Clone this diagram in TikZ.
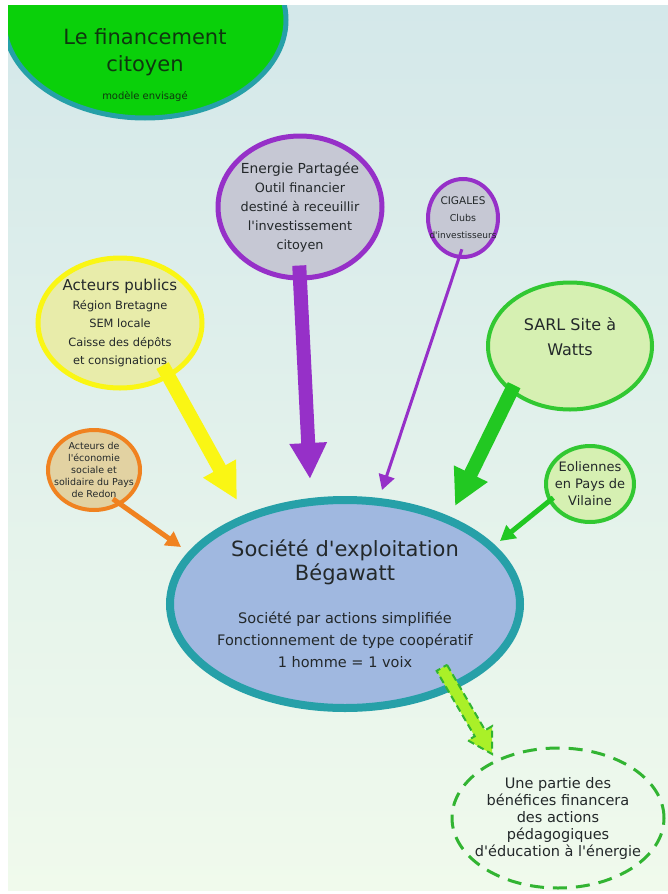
\documentclass[tikz,border=0pt]{standalone}
\usepackage{fontspec}
\setmainfont{DejaVu Sans}
\usepackage{tikz}
\usetikzlibrary{calc,shapes.geometric,arrows.meta}

\definecolor{bgtop}{RGB}{212,232,234}
\definecolor{bgbot}{RGB}{240,250,236}
\definecolor{encre}{RGB}{35,40,42}
\definecolor{titrevert}{RGB}{15,55,15}
\definecolor{vertvif}{RGB}{10,208,10}
\definecolor{sarcelle}{RGB}{38,160,168}
\definecolor{violet}{RGB}{150,48,200}
\definecolor{grisbleu}{RGB}{198,200,212}
\definecolor{jaune}{RGB}{250,246,20}
\definecolor{jaunepale}{RGB}{232,236,170}
\definecolor{orangev}{RGB}{240,130,32}
\definecolor{sable}{RGB}{226,210,162}
\definecolor{vert}{RGB}{50,200,50}
\definecolor{vertfleche}{RGB}{34,200,34}
\definecolor{vertpale}{RGB}{214,240,178}
\definecolor{bleuclair}{RGB}{160,184,224}
\definecolor{anis}{RGB}{170,240,40}
\definecolor{vertpointille}{RGB}{50,180,50}

\tikzset{
	bulle/.style={ellipse, inner sep=0pt},
	texte/.style={align=center, text=encre, inner sep=0pt},
	grossefleche/.style={draw=#1, line width=14pt, -{Triangle[width=35pt,length=36pt]}},
	petitefleche/.style={draw=#1, line width=5pt, -{Triangle[width=16pt,length=15pt]}},
}

\begin{document}
\begin{tikzpicture}[x=1pt, y=-1pt]
	%%%%% START %%%%%
	
	\useasboundingbox (0,0) rectangle (668,894);
	\shade[top color=bgtop, bottom color=bgbot] (8,5) rectangle (668,890);
	
	% titre
	\begin{scope}
		\clip (8,5) rectangle (668,890);
		\node[bulle, draw=sarcelle, line width=5, fill=vertvif, minimum width=282, minimum height=196] (titre) at (145,20) {};
	\end{scope}
	\node[texte, text=titrevert, font=\fontsize{21}{27}\selectfont] (titre-t) at (145,52) {Le financement\\citoyen};
	\node[texte, text=titrevert, font=\fontsize{10}{12}\selectfont] (titre-s) at (145,97) {modèle envisagé};
	
	% les bulles
	\node[bulle, draw=violet, line width=5, fill=grisbleu, minimum width=164, minimum height=142] (energie) at (300,207) {};
	\node[bulle, draw=violet, line width=4, fill=grisbleu, minimum width=70, minimum height=78] (cigales) at (463,218) {};
	\node[bulle, draw=jaune, line width=5, fill=jaunepale, minimum width=164, minimum height=130] (publics) at (120,323) {};
	\node[bulle, draw=orangev, line width=4, fill=sable, minimum width=92, minimum height=80] (redon) at (94,470) {};
	\node[bulle, draw=vert, line width=4, fill=vertpale, minimum width=164, minimum height=127] (sarl) at (570,346) {};
	\node[bulle, draw=vert, line width=4, fill=vertpale, minimum width=88, minimum height=76] (eoliennes) at (590,484) {};
	\node[bulle, draw=sarcelle, line width=8, fill=bleuclair, minimum width=350, minimum height=208] (societe) at (345,604) {};
	\node[bulle, draw=vertpointille, line width=3, dash pattern=on 14 off 9, minimum width=212, minimum height=140] (benef) at (558,818) {};
	
	% les textes
	\node[texte, font=\fontsize{12.8}{19}\selectfont] (energie-t) at (energie) {{\fontsize{13.8}{19}\selectfont Energie Partagée}\\Outil financier\\destiné à receuillir\\l\textquotesingle investissement\\citoyen};
	\node[texte, font=\fontsize{9.5}{17}\selectfont] (cigales-t) at (cigales) {{\fontsize{10.5}{17}\selectfont CIGALES}\\Clubs\\{\fontsize{9}{17}\selectfont d\textquotesingle investisseurs}};
	\node[texte, font=\fontsize{11.4}{18.5}\selectfont] (publics-t) at (publics) {{\fontsize{15}{18.5}\selectfont Acteurs publics}\\Région Bretagne\\SEM locale\\Caisse des dépôts\\et consignations};
	\node[texte, font=\fontsize{9.5}{12}\selectfont] (redon-t) at (redon) {Acteurs de\\l\textquotesingle économie\\sociale et\\solidaire du Pays\\de Redon};
	\node[texte, font=\fontsize{16}{25}\selectfont] (sarl-t) at (570,337) {SARL Site à\\Watts};
	\node[texte, font=\fontsize{13}{17}\selectfont] (eoliennes-t) at (eoliennes) {Eoliennes\\en Pays de\\Vilaine};
	\node[texte, font=\fontsize{14.5}{22}\selectfont] (societe-t) at (societe) {{\fontsize{21}{24}\selectfont Société d\textquotesingle exploitation}\\[2pt]{\fontsize{21}{24}\selectfont Bégawatt}\\[21pt]Société par actions simplifiée\\Fonctionnement de type coopératif\\1 homme = 1 voix};
	\node[texte, font=\fontsize{14.5}{17}\selectfont] (benef-t) at (benef) {Une partie des\\bénéfices financera\\des actions\\pédagogiques\\d\textquotesingle éducation à l\textquotesingle énergie};
	
	% les fleches
	\coordinate (pEnergie) at (310,479);
	\coordinate (pPublics) at (237,500);
	\coordinate (pCigales) at (382,490);
	\coordinate (pSarl) at (455,506);
	\coordinate (pEoliennes) at (500,541);
	\coordinate (pRedon) at (181,547);
	
	\draw[grossefleche=jaune, shorten <=-14pt] (publics.-48) -- (pPublics);
	\draw[grossefleche=violet, shorten <=-15pt] (energie.-90) -- (pEnergie);
	\draw[petitefleche=violet, line width=3pt, shorten <=-10pt] (cigales.-96) -- (pCigales);
	\draw[grossefleche=vertfleche, shorten <=-8pt] (sarl.-142) -- (pSarl);
	\draw[petitefleche=vertfleche, shorten <=-6pt] (eoliennes.-157) -- (pEoliennes);
	\draw[petitefleche=orangev, shorten <=-10pt] (redon.-52) -- (pRedon);
	
	% fleche en pointilles
	\coordinate (pointe) at (492,754);
	\coordinate (dep) at ($(societe.-38.6)!-25pt!(pointe)$);
	\coordinate (base) at ($(pointe)!24pt!(dep)$);
	\draw[draw=vertpointille, fill=anis, line width=2pt, dash pattern=on 7 off 4]
		($(dep)!6pt!90:(pointe)$) -- ($(base)!6pt!-90:(dep)$) -- ($(base)!14pt!-90:(dep)$) -- (pointe)
		-- ($(base)!14pt!90:(dep)$) -- ($(base)!6pt!90:(dep)$) -- ($(dep)!6pt!-90:(pointe)$) -- cycle;
	
	%%%%% END %%%%%
\end{tikzpicture}
\end{document}
